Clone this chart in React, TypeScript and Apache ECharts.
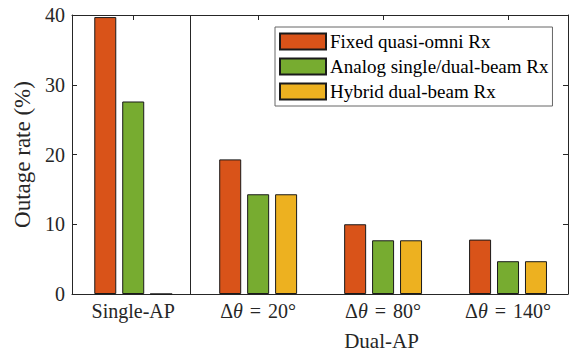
import React, { useEffect, useRef } from "react";
import * as echarts from "echarts";

const categories = ["Single-AP", "Δθ = 20°", "Δθ = 80°", "Δθ = 140°"];
const seriesNames = ["Fixed quasi-omni Rx", "Analog single/dual-beam Rx", "Hybrid dual-beam Rx"];
const fixedOmni = [39.7, 19.3, 10.0, 7.8];
const analogBeam = [27.6, 14.3, 7.7, 4.7];
const hybridBeam = [0, 14.3, 7.7, 4.7];
const seriesColors = ["#D95319", "#77AC30", "#EDB120"];
const yTicks = [0, 10, 20, 30, 40];
const groupLabel = "Dual-AP";
const yTitle = "Outage rate (%)";

const FONT = "'Liberation Serif', 'Times New Roman', serif";
const AX = "#262626";

export default function App() {
  const ref = useRef<HTMLDivElement>(null);
  useEffect(() => {
    if (!ref.current) return;
    const chart = echarts.init(ref.current, null, { renderer: "svg" });
    const positions = categories.map((_, i) => i + 1);
    const allSeries = [fixedOmni, analogBeam, hybridBeam];
    const labelFormatter = (v: number) => {
      const lbl = categories[Math.round(v) - 1] || "";
      if (lbl.startsWith("Δθ = ")) {
        const rest = lbl.slice("Δθ = ".length);
        return `{n|Δ}{i|θ}{eq|=}{n|${rest}}`;
      }
      return `{n|${lbl}}`;
    };
    const rich = {
      n: { fontFamily: FONT, fontSize: 20, color: AX },
      i: { fontFamily: FONT, fontSize: 20, color: AX, fontStyle: "italic" },
      eq: { fontFamily: FONT, fontSize: 20, color: AX, padding: [0, 7, 0, 7] },
    };
    const xMin = 0.51;
    const xMax = 4.48;
    chart.setOption({
      animation: false,
      textStyle: { fontFamily: FONT },
      grid: { left: 72, top: 15, width: 496, height: 279, containLabel: false },
      legend: {
        orient: "vertical",
        left: 275,
        top: 27,
        padding: [5, 4, 5, 4],
        itemWidth: 46,
        itemHeight: 16,
        itemGap: 6,
        borderColor: "#666",
        borderWidth: 1,
        backgroundColor: "#fff",
        icon: "rect",
        textStyle: { fontFamily: FONT, fontSize: 19, color: "#000", padding: [0, 0, 0, -1] },
        data: seriesNames,
      },
      xAxis: [
        {
          type: "value",
          position: "bottom",
          min: xMin,
          max: xMax,
          axisLine: { show: true, onZero: false, lineStyle: { color: AX, width: 1 } },
          axisTick: { show: true, inside: true, length: 5, customValues: positions, lineStyle: { color: AX } },
          axisLabel: { customValues: positions, formatter: labelFormatter, rich, margin: 7 },
          splitLine: { show: false },
        },
        {
          type: "value",
          position: "top",
          min: xMin,
          max: xMax,
          axisLine: { show: true, onZero: false, lineStyle: { color: AX, width: 1 } },
          axisTick: { show: true, inside: true, length: 5, customValues: positions, lineStyle: { color: AX } },
          axisLabel: { show: false },
          splitLine: { show: false },
        },
      ],
      yAxis: [
        {
          type: "value",
          position: "left",
          min: yTicks[0],
          max: yTicks[yTicks.length - 1],
          interval: yTicks[1] - yTicks[0],
          name: yTitle,
          nameLocation: "middle",
          nameRotate: 90,
          nameGap: 37,
          nameTextStyle: { fontFamily: FONT, fontSize: 23, color: AX },
          axisLine: { show: true, lineStyle: { color: AX, width: 1 } },
          axisTick: { show: true, inside: true, length: 5, lineStyle: { color: AX } },
          axisLabel: { fontFamily: FONT, fontSize: 20, color: AX, margin: 7 },
          splitLine: { show: false },
        },
        {
          type: "value",
          position: "right",
          min: yTicks[0],
          max: yTicks[yTicks.length - 1],
          interval: yTicks[1] - yTicks[0],
          axisLine: { show: true, lineStyle: { color: AX, width: 1 } },
          axisTick: { show: true, inside: true, length: 5, lineStyle: { color: AX } },
          axisLabel: { show: false },
          splitLine: { show: false },
        },
      ],
      graphic: [
        {
          type: "text",
          x: 381.5,
          y: 330,
          style: { text: groupLabel, fontFamily: FONT, fontSize: 21, fill: AX, align: "center", verticalAlign: "top" },
        },
      ],
      series: allSeries.map((vals, si) => ({
        type: "bar",
        name: seriesNames[si],
        xAxisIndex: 0,
        yAxisIndex: 0,
        barWidth: 22,
        barGap: "27%",
        data: vals.map((v, i) => [positions[i], v]),
        itemStyle: { color: seriesColors[si], borderColor: "#1a1a1a", borderWidth: 1 },
        markLine:
          si === 1
            ? {
                silent: true,
                symbol: ["none", "none"],
                label: { show: false },
                lineStyle: { color: AX, width: 1, type: "solid" },
                data: [{ xAxis: 1.455 }],
              }
            : undefined,
      })),
    });
    return () => chart.dispose();
  }, []);
  return <div ref={ref} style={{ width: 572, height: 353, position: "absolute", left: 0, top: 0 }} />;
}
